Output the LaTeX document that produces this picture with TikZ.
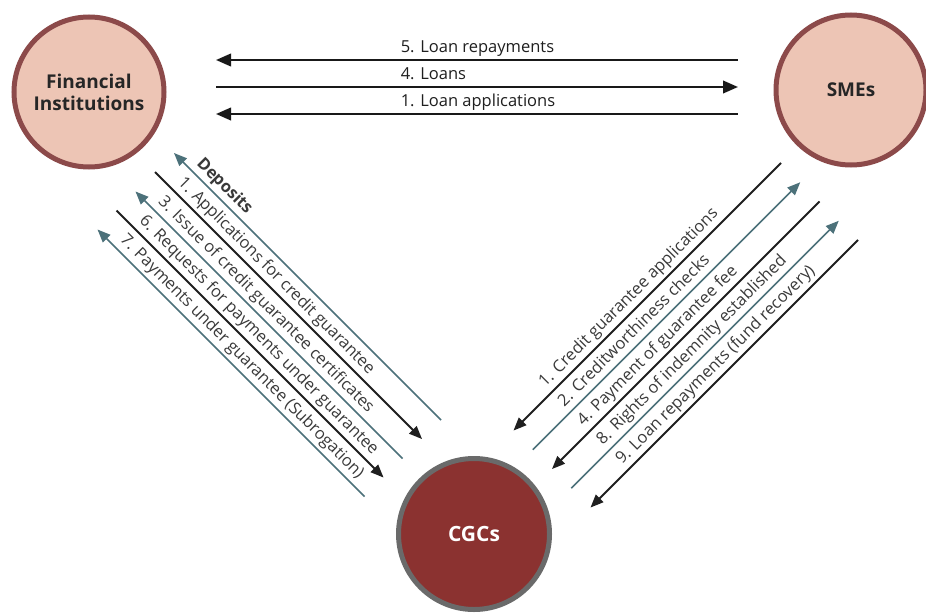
\documentclass[tikz,border=0pt]{standalone}
\usepackage{fontspec}
\setmainfont{Open Sans}
\usetikzlibrary{arrows.meta}

\definecolor{ringbrown}{HTML}{8C4A4A}
\definecolor{pinkfill}{HTML}{EDC5B5}
\definecolor{cgcfill}{HTML}{8B3230}
\definecolor{cgcring}{HTML}{6A6A6A}
\definecolor{tealline}{HTML}{4C717A}
\definecolor{labelgray}{HTML}{3A3A3A}

\begin{document}
\begin{tikzpicture}[x=1pt,y=-1pt,
  party/.style={circle, draw=ringbrown, fill=pinkfill, line width=5pt,
    minimum size=150pt, inner sep=0pt, align=center,
    font=\fontsize{19}{22}\selectfont\bfseries, text=black!85},
  hub/.style={circle, draw=cgcring, fill=cgcfill, line width=5pt,
    minimum size=151pt, inner sep=0pt,
    font=\fontsize{21}{24}\selectfont\bfseries, text=white},
  flowh/.style={line width=2.3pt, draw=black!90},
  htip/.style={arrows={-{Triangle[length=15pt,width=12.5pt]}}},
  htipback/.style={arrows={{Triangle[length=15pt,width=12.5pt]}-}},
  blkflow/.style={line width=1.8pt, draw=black!88},
  tealflow/.style={line width=1.6pt, draw=tealline},
  dtip/.style={arrows={-{Triangle[length=13pt,width=10.5pt]}}},
  dtipback/.style={arrows={{Triangle[length=13pt,width=10.5pt]}-}},
  lbl/.style={font=\fontsize{16.5}{20}\selectfont, text=labelgray,
    inner sep=2.5pt, text depth=4.3pt},
  hlbl/.style={lbl, text=black!88},
  leftlbl/.style={lbl, sloped, pos=0.054, anchor=south west},
  rightlbl/.style={lbl, sloped, pos=0.13, anchor=south west},
]
\useasboundingbox[fill=white] (0,0) rectangle (926,613);

% parties
\node[party] (fi)  at (89,92)   {Financial\\Institutions};
\node[party] (sme) at (851,90)  {SMEs};
\node[hub]   (cgc) at (474,534) {CGCs};

% horizontal flows between the financial institutions and the SMEs
\coordinate (h5a) at (216,60);  \coordinate (h5b) at (738,60);
\coordinate (h4a) at (216,87);  \coordinate (h4b) at (738,87);
\coordinate (h1a) at (216,114); \coordinate (h1b) at (738,114);

\draw[flowh, htipback] (h5a) -- node[hlbl, pos=0.347, anchor=south west] {5. Loan repayments} (h5b);
\draw[flowh, htip]     (h4a) -- node[hlbl, pos=0.347, anchor=south west] {4. Loans} (h4b);
\draw[flowh, htipback] (h1a) -- node[hlbl, pos=0.347, anchor=south west] {1. Loan applications} (h1b);

% flows between the financial institutions and the CGCs (upper-left ends a, lower-right ends b)
\coordinate (l0a) at (174,153);     \coordinate (l0b) at (441,420);
\coordinate (l1a) at (155,172);     \coordinate (l1b) at (422,439);
\coordinate (l2a) at (135.5,191.5); \coordinate (l2b) at (402.5,458.5);
\coordinate (l3a) at (116.5,210.5); \coordinate (l3b) at (383.5,477.5);
\coordinate (l4a) at (97.5,229.5);  \coordinate (l4b) at (364.5,496.5);

\draw[tealflow, dtipback] (l0a) -- node[leftlbl] {\bfseries Deposits} (l0b);
\draw[blkflow, dtip]      (l1a) -- node[leftlbl] {1. Applications for credit guarantee} (l1b);
\draw[tealflow, dtipback] (l2a) -- node[leftlbl] {3. Issue of credit guarantee certificates} (l2b);
\draw[blkflow, dtip]      (l3a) -- node[leftlbl] {6. Requests for payments under guarantee} (l3b);
\draw[tealflow, dtipback] (l4a) -- node[leftlbl] {7. Payments under guarantee (Subrogation)} (l4b);

% flows between the SMEs and the CGCs (lower-left ends a, upper-right ends b)
\coordinate (r0a) at (513.5,430.5);   \coordinate (r0b) at (781,163);
\coordinate (r1a) at (532.75,449.75); \coordinate (r1b) at (800.25,182.25);
\coordinate (r2a) at (552,469);       \coordinate (r2b) at (819.5,201.5);
\coordinate (r3a) at (571.25,488.25); \coordinate (r3b) at (838.75,220.75);
\coordinate (r4a) at (590.5,507.5);   \coordinate (r4b) at (858,240);

\draw[blkflow, dtipback] (r0a) -- node[rightlbl] {1. Credit guarantee applications} (r0b);
\draw[tealflow, dtip]    (r1a) -- node[rightlbl] {2. Creditworthiness checks} (r1b);
\draw[blkflow, dtipback] (r2a) -- node[rightlbl] {4. Payment of guarantee fee} (r2b);
\draw[tealflow, dtip]    (r3a) -- node[rightlbl] {8. Rights of indemnity established} (r3b);
\draw[blkflow, dtipback] (r4a) -- node[rightlbl] {9. Loan repayments (fund recovery)} (r4b);
\end{tikzpicture}
\end{document}
